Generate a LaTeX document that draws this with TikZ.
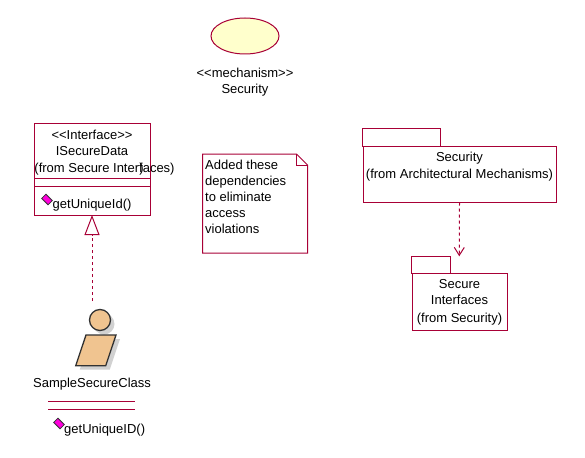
\documentclass[tikz,border=0pt]{standalone}
\usepackage{xcolor}
\usepackage{fontspec}
\setmainfont{Liberation Sans}
\usetikzlibrary{arrows.meta, positioning, shapes.geometric, fit}
\definecolor{umlred}{RGB}{168,0,54}
\definecolor{usecase}{RGB}{255,255,204}
\definecolor{skin}{RGB}{240,196,144}
\definecolor{outline}{RGB}{50,50,50}
\definecolor{method}{RGB}{255,0,220}

\begin{document}
\begin{tikzpicture}[
  x=1pt, y=-1pt,
  lbl/.style={inner sep=0pt, align=center, font=\fontsize{13}{16}\selectfont},
  box/.style={draw=umlred, line width=1pt, inner sep=0pt, outer sep=0pt, fill=white},
  pkgbody/.style={box, anchor=north west},
  pkgtab/.style={box, anchor=south west},
  methodicon/.style={draw=outline, line width=.8pt, fill=method, inner sep=0pt,
                     minimum width=9pt, minimum height=6pt, rotate=-45},
  depend/.style={draw=umlred, line width=1pt, dashed},
  arr/.style={depend, -{Straight Barb[length=8pt, width=10pt]}},
  realize/.style={depend, -{Triangle[open, length=20pt, width=15pt]}},
  figline/.style={draw=outline, line width=1.3pt, fill=skin}
]
  \useasboundingbox (0,0) rectangle (585,457);

  % mechanism
  \node[draw=umlred, line width=1pt, fill=usecase, ellipse, inner sep=0pt,
        minimum width=68pt, minimum height=36pt] (mech) at (245,36) {};
  \node[lbl, below=13.5pt of mech] (mechlbl) {<{}<mechanism>{}>\\Security};

  % interface class
  \node[box, minimum width=116pt, minimum height=91pt] (iface) at (92,169.5) {};
  \draw[umlred, line width=1pt] (iface.west |- 0,178) -- (iface.east |- 0,178);
  \draw[umlred, line width=1pt] (iface.west |- 0,186) -- (iface.east |- 0,186);
  \node[lbl] (ifacelbl) at (92,143) {<{}<Interface>{}>\\ISecureData};
  \node[lbl] (ifacefrom) at (104.5,169) {(from Secure Interfaces)};
  \node[lbl] (ifaceclip) at (141.5,169) {)};
  \node[methodicon] (ifacem) at (47,199.5) {};
  \node[lbl, anchor=west] (ifacemlbl) at (52.5,205.5) {getUniqueId()};

  % note
  \node[minimum width=105pt, minimum height=99pt, inner sep=0pt, outer sep=0pt] (note) at (255,203.5) {};
  \draw[umlred, line width=1pt] (note.north west) -- ++(94,0) -- (note.north east |- 0,165)
    -- (note.south east) -- (note.south west) -- cycle;
  \draw[umlred, line width=1pt] (296,154) -- (296,165) -- (307.5,165);
  \node[lbl, align=left, anchor=north west] (notelbl) at (205,159.5) {Added these\\dependencies\\to eliminate\\access\\violations};

  % packages
  \node[pkgbody, minimum width=193pt, minimum height=56pt] (secbody) at (363,146.5) {};
  \node[pkgtab, minimum width=78pt, minimum height=18pt] (sectab) at (362.5,146.5) {};
  \node[lbl, below=5.5pt of secbody.north] (seclbl) {Security};
  \node[lbl, below=4.5pt of seclbl] (secfrom) {(from Architectural Mechanisms)};

  \node[pkgbody, minimum width=95pt, minimum height=57pt] (ifbody) at (412,273.5) {};
  \node[pkgtab, minimum width=39pt, minimum height=17pt] (iftab) at (411.5,273.5) {};
  \node[fit=(ifbody)(iftab), inner sep=0pt] (ifpkg) {};
  \node[lbl, below=5.5pt of ifbody.north] (iflbl) {Secure\\Interfaces};
  \node[lbl, below=8pt of iflbl] (iffrom) {(from Security)};

  % class figure
  \fill[black!18] (90,339) -- (120,339) -- (109.7,369.7) -- (79.7,369.7) -- cycle;
  \fill[black!18] (104,324) circle (10.5);
  \node[circle, figline, inner sep=0pt, minimum size=21pt] (head) at (100,320) {};
  \draw[figline] (86,335) -- (116,335) -- (105.7,365.7) -- (75.7,365.7) -- cycle;
  \node[lbl] (reallbl) at (92,384) {SampleSecureClass};
  \node[minimum width=87pt, minimum height=8pt, inner sep=0pt, outer sep=0pt] (realcomp) at (91.5,405) {};
  \draw[umlred, line width=1pt] (realcomp.north west) -- (realcomp.north east);
  \draw[umlred, line width=1pt] (realcomp.south west) -- (realcomp.south east);
  \node[methodicon] (realm) at (59,423.5) {};
  \node[lbl, anchor=west] (realmlbl) at (64,430) {getUniqueID()};
  \coordinate (realtop) at (92,301);

  \draw[realize] (realtop) -- (iface.south);
  \draw[arr] (secbody.south) -- (ifpkg.north);
\end{tikzpicture}
\end{document}
